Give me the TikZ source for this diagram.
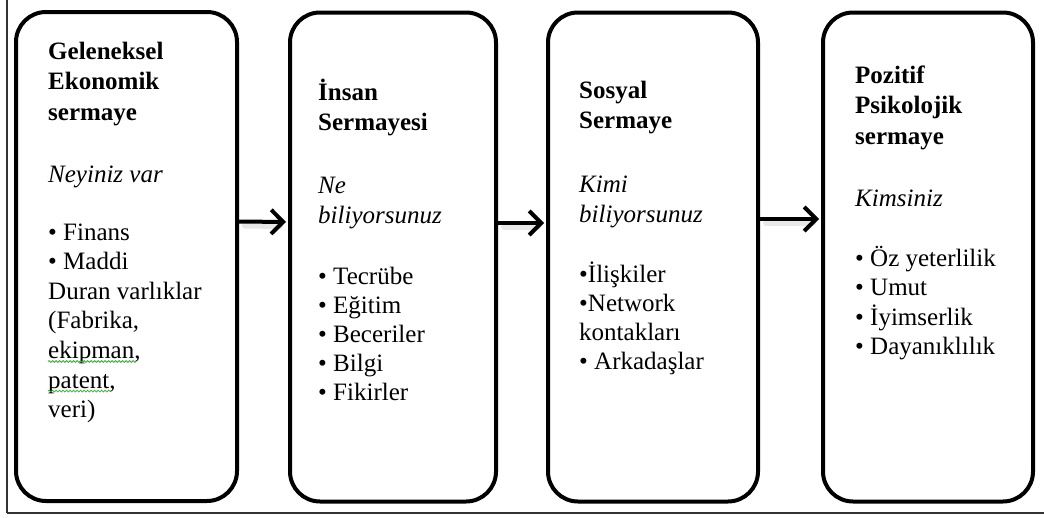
\documentclass[tikz,border=0pt]{standalone}
\usepackage{fontspec}
\setmainfont{Liberation Serif}
\usetikzlibrary{arrows.meta,decorations.pathmorphing}
\definecolor{squig}{RGB}{60,170,60}
\tikzset{
  capbox/.style={draw=black, line width=4pt, rounded corners=30pt, inner sep=0pt,
    minimum height=489pt, fill=white},
  flowarrow/.style={line width=4pt, -{Straight Barb[length=12pt,width=24pt,line width=4pt]}},
  arrowshadow/.style={line width=6pt, draw=black!9, line cap=round},
  ttl/.style={anchor=base west, inner sep=0pt, align=left, font=\fontsize{25}{30.8}\selectfont\bfseries},
  sub/.style={anchor=base west, inner sep=0pt, align=left, font=\fontsize{25}{30}\selectfont\itshape},
  lst/.style={anchor=base west, inner sep=0pt, align=left, font=\fontsize{25}{29.6}\selectfont},
  frame/.style={draw=black!80},
  squiggle/.style={draw=squig, line width=0.8pt, decorate,
    decoration={snake, amplitude=0.9pt, segment length=3.5pt}}
}
\begin{document}
\begin{tikzpicture}[x=1pt,y=-1pt]
\useasboundingbox (0,0) rectangle (1044,517);
\fill[white] (0,0) rectangle (1044,517);
% outer frame (left and bottom)
\coordinate (ftop) at (7,0);
\coordinate (fcorner) at (7,513);
\coordinate (fright) at (1044,513);
\draw[frame, line width=1.3pt] (ftop) -- (fcorner);
\draw[frame, line width=2.5pt] (fcorner) -- (fright);

% boxes
\node[capbox, minimum width=221pt] (b1) at (126.5,256.5) {};
\node[capbox, minimum width=206pt] (b2) at (393,257) {};
\node[capbox, minimum width=210pt] (b3) at (653,257) {};
\node[capbox, minimum width=210pt] (b4) at (928,257) {};

% arrows (with faint shadow)
\draw[arrowshadow] ([xshift=6pt,yshift=31pt]b1.east) -- ([xshift=-8pt,yshift=31pt]b2.west);
\draw[arrowshadow] ([xshift=6pt,yshift=30pt]b2.east) -- ([xshift=-8pt,yshift=30pt]b3.west);
\draw[arrowshadow] ([xshift=6pt,yshift=34pt]b3.east) -- ([xshift=-8pt,yshift=34pt]b4.west);
\draw[flowarrow] ([yshift=35pt]b1.east) -- ([xshift=-2pt,yshift=35pt]b2.west);
\draw[flowarrow] ([yshift=34pt]b2.east) -- ([xshift=-2pt,yshift=34pt]b3.west);
\draw[flowarrow] ([yshift=38pt]b3.east) -- ([xshift=-2pt,yshift=38pt]b4.west);

% box 1 (nodes anchored at the baseline of their last line)
\node[ttl] (t1) at (48,120.6) {Geleneksel\\Ekonomik\\sermaye};
\node[sub] (s1) at (48,182) {Neyiniz var};
\node[lst] (l1) at (48,417.6) {• Finans\\• Maddi\\Duran varlıklar\\(Fabrika,\\ekipman,\\patent,\\veri)};
\draw[squiggle] ([yshift=56.1pt]l1.base west) -- ++(88,0);
\draw[squiggle] ([yshift=26.5pt]l1.base west) -- ++(62,0);

% box 2
\node[ttl] (t2) at (318,130.8) {İnsan\\Sermayesi};
\node[sub] (s2) at (318,223) {Ne\\biliyorsunuz};
\node[lst, font=\fontsize{25}{29}\selectfont] (l2) at (318,400) {• Tecrübe\\• Eğitim\\• Beceriler\\• Bilgi\\• Fikirler};

% box 3
\node[ttl, font=\fontsize{25}{30}\selectfont\bfseries] (t3) at (579,128) {Sosyal\\Sermaye};
\node[sub] (s3) at (579,222) {Kimi\\biliyorsunuz};
\node[lst, font=\fontsize{25}{29.3}\selectfont] (l3) at (579,369.9) {•İlişkiler\\•Network\\kontakları\\• Arkadaşlar};

% box 4
\node[ttl] (t4) at (855,144.6) {Pozitif\\Psikolojik\\sermaye};
\node[sub] (s4) at (855,206) {Kimsiniz};
\node[lst] (l4) at (855,354.8) {• Öz yeterlilik\\• Umut\\• İyimserlik\\• Dayanıklılık};
\end{tikzpicture}
\end{document}
